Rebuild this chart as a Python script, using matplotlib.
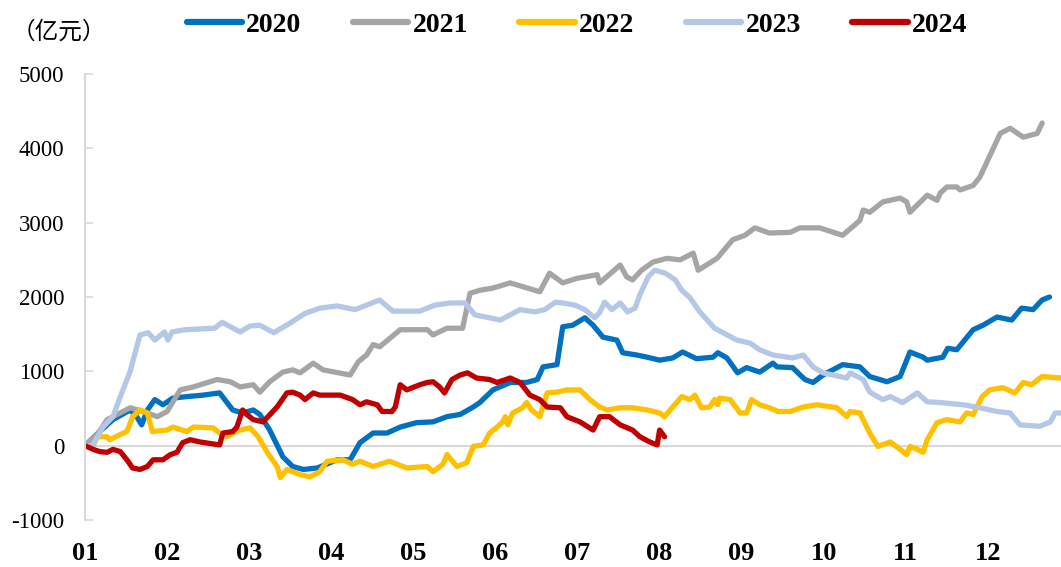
import matplotlib
matplotlib.use('Agg')
import matplotlib.pyplot as plt

# x = month position (1.0 = start of Jan), y = 亿元
x2020 = [1.00, 1.18, 1.34, 1.55, 1.63, 1.69, 1.76, 1.85, 1.95, 2.07, 2.24, 2.44, 2.64, 2.73, 2.80, 2.92,
         3.05, 3.13, 3.25, 3.41, 3.53, 3.66, 3.83, 4.07, 4.23, 4.35, 4.51, 4.68, 4.84, 5.04, 5.24, 5.41,
         5.57, 5.73, 5.81, 5.97, 6.18, 6.38, 6.51, 6.58, 6.75, 6.82, 6.94, 7.09, 7.19, 7.31, 7.48, 7.55,
         7.72, 7.85, 8.00, 8.16, 8.28, 8.45, 8.65, 8.71, 8.82, 8.95, 9.06, 9.22, 9.38, 9.43, 9.62, 9.77,
         9.87, 9.99, 10.23, 10.44, 10.56, 10.77, 10.93, 11.05, 11.21, 11.26, 11.45, 11.51, 11.62, 11.82,
         11.94, 12.11, 12.29, 12.41, 12.55, 12.66, 12.75]
y2020 = [0, 190, 350, 480, 390, 280, 480, 620, 550, 640, 660, 680, 710, 580, 480, 440,
         480, 420, 210, -150, -280, -320, -300, -190, -190, 40, 170, 170, 250, 310, 320, 390,
         420, 520, 580, 750, 850, 850, 890, 1060, 1090, 1600, 1620, 1720, 1620, 1460, 1420, 1250,
         1220, 1190, 1150, 1180, 1260, 1170, 1190, 1250, 1180, 980, 1050, 990, 1110, 1060, 1050, 890,
         850, 950, 1090, 1060, 930, 860, 930, 1260, 1190, 1150, 1190, 1310, 1290, 1560,
         1620, 1730, 1690, 1850, 1830, 1960, 2000]

x2021 = [1.00, 1.15, 1.27, 1.55, 1.71, 1.88, 2.00, 2.16, 2.32, 2.61, 2.77, 2.89, 3.05, 3.13, 3.25, 3.41,
         3.53, 3.62, 3.78, 3.90, 4.23, 4.33, 4.43, 4.51, 4.59, 4.84, 5.17, 5.24, 5.41, 5.60, 5.69, 5.81,
         5.97, 6.18, 6.54, 6.66, 6.82, 6.99, 7.24, 7.27, 7.52, 7.60, 7.67, 7.78, 7.92, 8.09, 8.25, 8.41,
         8.47, 8.70, 8.89, 9.04, 9.16, 9.34, 9.59, 9.71, 9.95, 10.23, 10.44, 10.48, 10.56, 10.72, 10.93,
         11.01, 11.05, 11.26, 11.38, 11.42, 11.50, 11.62, 11.66, 11.82, 11.90, 12.15, 12.27, 12.43,
         12.60, 12.66]
y2021 = [0, 150, 350, 510, 460, 390, 460, 750, 790, 890, 860, 790, 820, 720, 860, 990,
         1020, 980, 1110, 1020, 950, 1130, 1220, 1360, 1330, 1560, 1560, 1490, 1580, 1580, 2050, 2090,
         2120, 2190, 2070, 2320, 2190, 2250, 2300, 2190, 2430, 2270, 2230, 2360, 2470, 2520, 2500, 2590,
         2360, 2520, 2770, 2830, 2930, 2860, 2870, 2930, 2930, 2830, 3030, 3170, 3140, 3280, 3330,
         3280, 3140, 3370, 3300, 3400, 3480, 3480, 3440, 3500, 3610, 4200, 4270, 4150,
         4200, 4340]

x2022 = [1.00, 1.10, 1.15, 1.27, 1.30, 1.43, 1.51, 1.58, 1.67, 1.76, 1.82, 2.00, 2.07, 2.24, 2.32, 2.56,
         2.64, 2.73, 2.80, 2.89, 3.01, 3.11, 3.22, 3.34, 3.38, 3.46, 3.62, 3.74, 3.86, 3.95, 4.14, 4.26,
         4.35, 4.51, 4.71, 4.92, 5.17, 5.24, 5.36, 5.41, 5.47, 5.53, 5.65, 5.73, 5.85, 5.93, 6.02, 6.09,
         6.12, 6.15, 6.21, 6.33, 6.38, 6.44, 6.54, 6.63, 6.75, 6.87, 7.03, 7.15, 7.27, 7.36, 7.52, 7.67,
         7.85, 8.00, 8.06, 8.16, 8.27, 8.37, 8.43, 8.51, 8.61, 8.67, 8.71, 8.73, 8.86, 8.98, 9.06, 9.12,
         9.22, 9.34, 9.44, 9.59, 9.75, 9.92, 10.16, 10.28, 10.32, 10.44, 10.56, 10.66, 10.81, 10.93,
         11.01, 11.05, 11.14, 11.21, 11.26, 11.38, 11.50, 11.66, 11.74, 11.82, 11.93, 12.02, 12.18,
         12.33, 12.43, 12.53, 12.66, 12.89]
y2022 = [0, 0, 120, 120, 80, 150, 190, 390, 480, 440, 190, 210, 250, 190, 250, 240,
         170, 120, 170, 210, 240, 120, -90, -280, -430, -320, -390, -420, -350, -210, -190, -250,
         -210, -280, -210, -300, -280, -350, -250, -120, -200, -280, -230, -10, 10, 170, 250, 320,
         390, 280, 440, 510, 580, 480, 390, 710, 720, 750, 750, 620, 520, 480, 510, 510,
         480, 440, 390, 520, 660, 620, 680, 510, 520, 620, 550, 640, 620, 440, 440, 620,
         550, 510, 460, 460, 520, 550, 510, 390, 460, 440, 170, -10, 50, -50,
         -120, -10, -50, -90, 80, 310, 350, 320, 440, 420, 660, 750, 780,
         710, 850, 820, 930, 910]

x2023 = [1.00, 1.09, 1.22, 1.34, 1.43, 1.55, 1.67, 1.77, 1.85, 1.97, 2.01, 2.06, 2.22, 2.58, 2.67, 2.89,
         3.01, 3.13, 3.30, 3.50, 3.68, 3.86, 4.07, 4.29, 4.59, 4.75, 5.08, 5.26, 5.45, 5.63, 5.75, 5.93,
         6.06, 6.30, 6.48, 6.60, 6.73, 6.82, 6.97, 7.09, 7.21, 7.27, 7.33, 7.42, 7.52, 7.61, 7.70, 7.76,
         7.86, 7.94, 8.07, 8.19, 8.27, 8.37, 8.49, 8.67, 8.94, 9.10, 9.22, 9.38, 9.62, 9.75, 9.87, 9.99,
         10.28, 10.32, 10.48, 10.56, 10.72, 10.81, 10.96, 11.14, 11.26, 11.42, 11.70, 11.90, 12.11,
         12.27, 12.39, 12.63, 12.76, 12.82, 12.89]
y2023 = [0, 0, 250, 390, 660, 1000, 1490, 1520, 1420, 1530, 1420, 1530, 1560, 1580, 1660, 1530,
         1610, 1620, 1520, 1650, 1780, 1850, 1880, 1830, 1960, 1810, 1810, 1890, 1920, 1920, 1760, 1720,
         1690, 1830, 1800, 1830, 1930, 1920, 1890, 1830, 1720, 1790, 1930, 1830, 1920, 1800, 1850, 2030,
         2270, 2360, 2320, 2230, 2090, 1990, 1800, 1580, 1420, 1380, 1290, 1220, 1180, 1220, 1060, 980,
         910, 980, 890, 720, 620, 660, 580, 710, 590, 580, 550, 510, 460,
         440, 280, 260, 320, 440, 440]

x2024 = [1.00, 1.10, 1.18, 1.27, 1.34, 1.43, 1.51, 1.58, 1.67, 1.76, 1.83, 1.95, 2.04, 2.12, 2.19, 2.28,
         2.40, 2.64, 2.68, 2.80, 2.85, 2.92, 2.97, 3.05, 3.17, 3.34, 3.46, 3.53, 3.62, 3.68, 3.78, 3.86,
         4.11, 4.26, 4.35, 4.43, 4.56, 4.62, 4.74, 4.78, 4.84, 4.92, 5.08, 5.17, 5.24, 5.32, 5.38, 5.47,
         5.57, 5.66, 5.77, 5.93, 6.02, 6.18, 6.30, 6.42, 6.54, 6.63, 6.79, 6.87, 7.03, 7.19, 7.27, 7.39,
         7.52, 7.67, 7.76, 7.88, 7.97, 8.00, 8.06]
y2024 = [0, -50, -80, -90, -50, -80, -190, -300, -320, -280, -190, -190, -120, -90, 40, 80,
         50, 10, 170, 190, 250, 480, 420, 350, 320, 520, 710, 720, 680, 620, 710, 680,
         680, 620, 550, 590, 550, 460, 460, 520, 820, 750, 820, 850, 860, 790, 710, 890,
         950, 980, 910, 890, 850, 910, 850, 680, 620, 520, 510, 390, 320, 210, 390, 390,
         280, 210, 120, 50, 10, 210, 120]

month_labels = ['01', '02', '03', '04', '05', '06', '07', '08', '09', '10', '11', '12']

series = [
    ('2020', x2020, y2020, '#0070C0'),
    ('2021', x2021, y2021, '#A5A5A5'),
    ('2022', x2022, y2022, '#FFC000'),
    ('2023', x2023, y2023, '#B4C7E7'),
    ('2024', x2024, y2024, '#C00000'),
]

serif = 'Liberation Serif'

fig = plt.figure(figsize=(10.61, 5.67), dpi=100)
ax = fig.add_axes([85 / 1061, 47 / 567, 976 / 1061, 446 / 567])

ax.axhline(0, color='#D9D9D9', lw=1.5, zorder=1)
for name, xs, ys, c in series:
    ax.plot(xs, ys, color=c, lw=3.8, label=name, solid_capstyle='round', solid_joinstyle='round', zorder=2)

ax.set_xlim(1.0, 12.89)
ax.set_ylim(-1000, 5000)
ax.set_xticks(range(1, 13))
ax.set_xticklabels(month_labels, fontfamily=serif, fontweight='bold', fontsize=19)
ax.set_yticks(range(-1000, 5001, 1000))
ax.set_yticklabels([str(v) for v in range(-1000, 5001, 1000)], fontfamily=serif, fontsize=16.5)
ax.tick_params(axis='x', length=0, pad=16)
ax.tick_params(axis='y', direction='in', length=6, width=1.2, color='#D9D9D9', pad=15)

for s in ['top', 'right', 'bottom']:
    ax.spines[s].set_visible(False)
ax.spines['left'].set_color('#D9D9D9')
ax.spines['left'].set_linewidth(1.5)

fig.text(12 / 1061, 1 - 32 / 567, '（亿元）', fontsize=17, va='center', ha='left',
         fontfamily=['Noto Sans CJK SC', 'DejaVu Sans'])

leg = fig.legend(loc='center', bbox_to_anchor=(577 / 1061, 1 - 25 / 567), ncol=5, frameon=False,
                 handlelength=2.0, handletextpad=0.15, columnspacing=1.85,
                 prop={'family': serif, 'weight': 'bold', 'size': 20})
for ln in leg.get_lines():
    ln.set_linewidth(4.5)

plt.savefig('out.png', dpi=100)
plt.close()
